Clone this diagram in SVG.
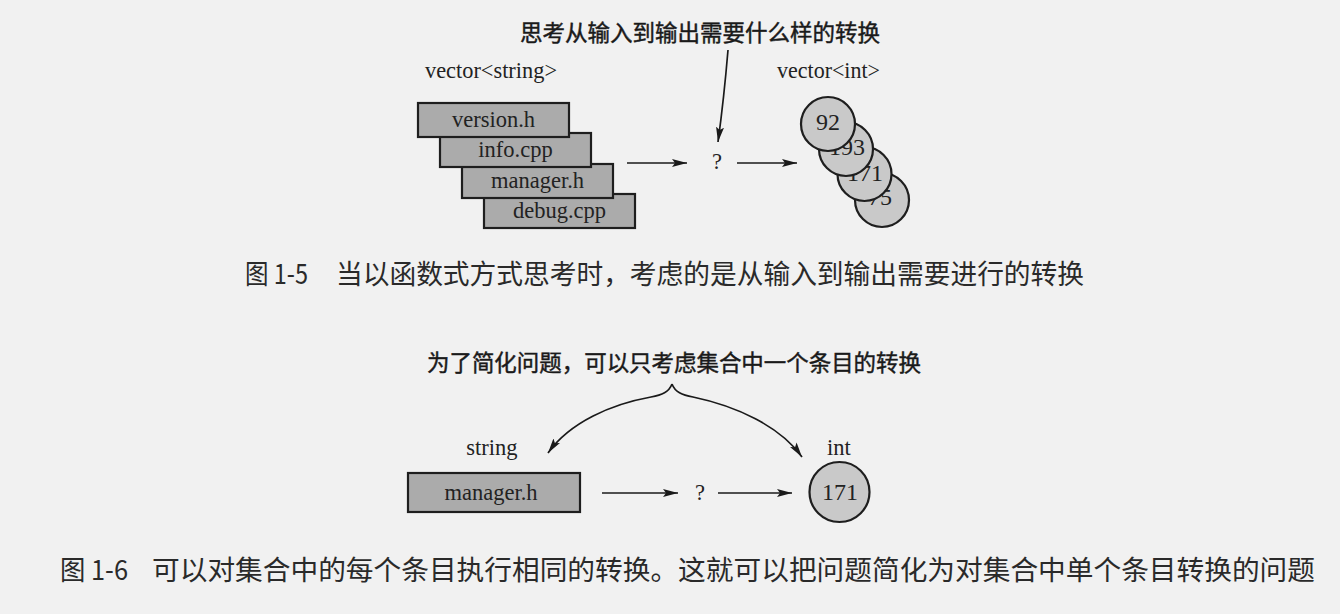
<svg xmlns="http://www.w3.org/2000/svg" width="1340" height="614" viewBox="0 0 1340 614">
  <style>
    .bg { fill: #f1f1f1; }
    .box { fill: #ababab; stroke: #1e1e1e; stroke-width: 2.2; }
    .disc { fill: #c9c9c9; stroke: #1e1e1e; stroke-width: 2.2; }
    .lat { font-family: "Liberation Serif", "Times New Roman", serif; font-size: 22.5px; fill: #222; }
    .num { font-size: 24px; }
    .mid { text-anchor: middle; }
    .head { font-family: "Noto Sans CJK SC", "Noto Sans", sans-serif; font-size: 22.5px; font-weight: normal; fill: #1a1a1a; stroke: #1a1a1a; stroke-width: 0.45; }
    .cap { font-family: "Noto Sans CJK SC", "Noto Sans", sans-serif; font-size: 27.5px; fill: #2a2a2a; }
    .line { fill: none; stroke: #1a1a1a; stroke-width: 1.7; }
  </style>
  <defs>
    <marker id="ah" viewBox="0 0 15 8" refX="15" refY="4" markerWidth="15" markerHeight="8" markerUnits="userSpaceOnUse" orient="auto">
      <path d="M0,0 L15,4 L0,8 L3,4 Z" fill="#1a1a1a"/>
    </marker>
  </defs>

  <rect class="bg" x="0" y="0" width="1340" height="614"/>

  <!-- Figure 1-5 -->
  <g id="title-top">
    <text class="head" x="520" y="41" textLength="360" lengthAdjust="spacingAndGlyphs">思考从输入到输出需要什么样的转换</text>
  </g>
  <g id="label-vector-string">
    <text class="lat" x="425" y="78" textLength="132" lengthAdjust="spacingAndGlyphs">vector&lt;string&gt;</text>
  </g>
  <g id="label-vector-int">
    <text class="lat" x="777" y="78" textLength="103" lengthAdjust="spacingAndGlyphs">vector&lt;int&gt;</text>
  </g>

  <g id="box-debug">
    <rect class="box" x="484" y="194" width="151" height="34"/>
    <text class="lat mid" x="559.5" y="218">debug.cpp</text>
  </g>
  <g id="box-manager">
    <rect class="box" x="462" y="164" width="151" height="34"/>
    <text class="lat mid" x="537.5" y="188">manager.h</text>
  </g>
  <g id="box-info">
    <rect class="box" x="440" y="133" width="151" height="34"/>
    <text class="lat mid" x="515.5" y="157">info.cpp</text>
  </g>
  <g id="box-version">
    <rect class="box" x="418" y="103" width="151" height="34"/>
    <text class="lat mid" x="493.5" y="127">version.h</text>
  </g>

  <g id="q-top">
    <text class="lat mid" x="717" y="169">?</text>
  </g>

  <g id="circle-75">
    <circle class="disc" cx="882" cy="200" r="27"/>
    <text class="lat num mid" x="880" y="205">75</text>
  </g>
  <g id="circle-171">
    <circle class="disc" cx="864.5" cy="174" r="27"/>
    <text class="lat num mid" x="865" y="181">171</text>
  </g>
  <g id="circle-193">
    <circle class="disc" cx="846" cy="149" r="27"/>
    <text class="lat num mid" x="847" y="155">193</text>
  </g>
  <g id="circle-92">
    <circle class="disc" cx="828" cy="124" r="27"/>
    <text class="lat num mid" x="828" y="130">92</text>
  </g>

  <g id="caption-1-5">
    <text class="cap" x="245" y="284" textLength="63" lengthAdjust="spacingAndGlyphs">图 1-5</text>
    <text class="cap" x="336" y="284" textLength="748" lengthAdjust="spacingAndGlyphs">当以函数式方式思考时，考虑的是从输入到输出需要进行的转换</text>
  </g>

  <!-- Figure 1-6 -->
  <g id="title-bottom">
    <text class="head" x="427" y="371" textLength="494" lengthAdjust="spacingAndGlyphs">为了简化问题，可以只考虑集合中一个条目的转换</text>
  </g>
  <g id="label-string">
    <text class="lat mid" x="492" y="455">string</text>
  </g>
  <g id="label-int">
    <text class="lat mid" x="839" y="455">int</text>
  </g>
  <g id="box-manager-single">
    <rect class="box" x="408" y="473" width="172" height="39"/>
    <text class="lat mid" x="491" y="500">manager.h</text>
  </g>
  <g id="q-bottom">
    <text class="lat mid" x="700" y="500">?</text>
  </g>
  <g id="circle-171-single">
    <circle class="disc" cx="839.5" cy="492" r="30"/>
    <text class="lat num mid" x="840" y="500">171</text>
  </g>

  <g id="caption-1-6">
    <text class="cap" x="60" y="580" textLength="68" lengthAdjust="spacingAndGlyphs">图 1-6</text>
    <text class="cap" x="152" y="580" textLength="1163" lengthAdjust="spacingAndGlyphs">可以对集合中的每个条目执行相同的转换。这就可以把问题简化为对集合中单个条目转换的问题</text>
  </g>

  <g id="connectors">
    <path class="line" d="M728,50 Q724,98 718,142" marker-end="url(#ah)"/>
    <path class="line" d="M627,163 L687,163" marker-end="url(#ah)"/>
    <path class="line" d="M737,163 L797,163" marker-end="url(#ah)"/>
    <path class="line" d="M672,384 C669,392 662,395 651,397 C612,404 570,422 548,453" marker-end="url(#ah)"/>
    <path class="line" d="M672,384 C675,392 682,395 693,397 C736,406 780,426 802,457" marker-end="url(#ah)"/>
    <path class="line" d="M602,493 L678,493" marker-end="url(#ah)"/>
    <path class="line" d="M718,493 L792,493" marker-end="url(#ah)"/>
  </g>
</svg>
